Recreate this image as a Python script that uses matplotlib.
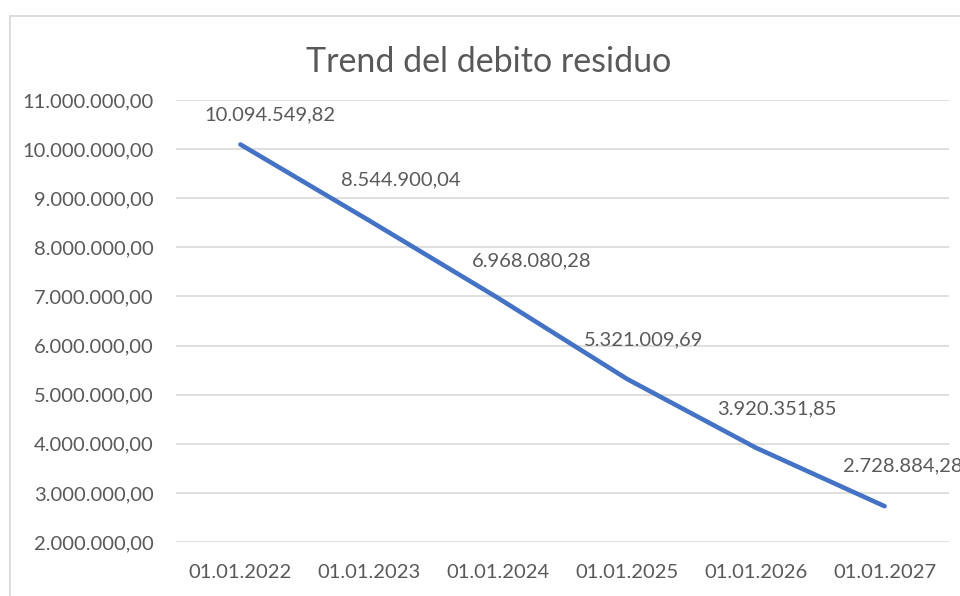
import matplotlib
matplotlib.use("Agg")
import matplotlib.pyplot as plt
from matplotlib.patches import Rectangle
from matplotlib.ticker import FuncFormatter

# residual debt at the start of each year
dates = ["01.01.2022", "01.01.2023", "01.01.2024", "01.01.2025", "01.01.2026", "01.01.2027"]
debt = [10094549.82, 8544900.04, 6968080.28, 5321009.69, 3920351.85, 2728884.28]

# label offsets in points (dx, dy) from each point
label_offsets = [(21, 21), (23, 29), (24, 27), (12, 28), (15, 28), (13, 29)]

TEXT = "#595959"
GRID = "#D9D9D9"
BLUE = "#4472C4"


def it_number(v, pos=None):
    # Italian style: dot for thousands, comma for decimals
    s = "{:,.2f}".format(v)
    return s.replace(",", "X").replace(".", ",").replace("X", ".")


plt.rcParams['font.family'] = ['Lato', 'DejaVu Sans']

fig = plt.figure(figsize=(9.6, 5.96), dpi=100)
ax = fig.add_axes([176 / 960, 1 - 542 / 596, (949 - 176) / 960, (542 - 100) / 596])

x = list(range(len(dates)))
ax.plot(x, debt, color=BLUE, linewidth=3.3, solid_capstyle="round", solid_joinstyle="round", zorder=3)

for i, v in enumerate(debt):
    dx, dy = label_offsets[i]
    ax.annotate(it_number(v), (x[i], v), xytext=(dx, dy), textcoords="offset points",
                ha="center", va="center", fontsize=14.5, color=TEXT, annotation_clip=False)

ax.set_xlim(-0.5, len(dates) - 0.5)
ax.set_ylim(2000000, 11000000)
ax.set_yticks(range(2000000, 11000001, 1000000))
ax.yaxis.set_major_formatter(FuncFormatter(it_number))
ax.set_xticks(x)
ax.set_xticklabels(dates)

ax.grid(axis="y", color=GRID, linewidth=1.2)
ax.set_axisbelow(True)
for s in ax.spines.values():
    s.set_visible(False)
ax.tick_params(axis="both", length=0, colors=TEXT, labelsize=14.5)
ax.tick_params(axis="y", pad=16)
ax.tick_params(axis="x", pad=16)

fig.text(489 / 960, 1 - 62 / 596, "Trend del debito residuo", ha="center", va="center",
         fontsize=24.5, color=TEXT)

# chart frame
fig.patches.append(Rectangle((9.5 / 960, -0.1), 1.2, 1.1 - 15.5 / 596,
                             transform=fig.transFigure, fill=False, edgecolor=GRID, linewidth=1.3))

fig.savefig("out.png", dpi=100)
